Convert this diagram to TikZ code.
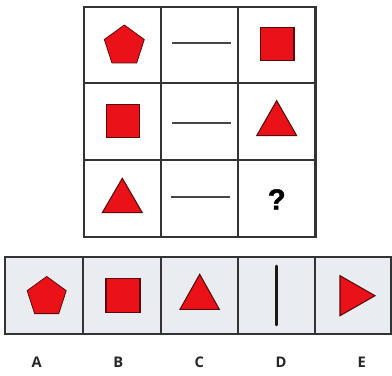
\documentclass[tikz,border=0pt]{standalone}
\usepackage{fontspec}
\setmainfont{Open Sans}
\newfontfamily\qfont[FakeBold=1.5]{Liberation Sans Bold}
\usetikzlibrary{shapes.geometric}
\definecolor{shapered}{HTML}{EA1218}
\definecolor{shapeedge}{HTML}{5A0A0A}
\definecolor{gridline}{HTML}{333333}
\definecolor{optfill}{HTML}{E9EDF2}
\tikzset{
  redshape/.style={fill=shapered, draw=shapeedge, line width=0.8, line join=miter},
  gridl/.style={draw=gridline, line width=1.6},
  dashl/.style={draw=gridline!90, line width=1.4},
  pent/.style={regular polygon, regular polygon sides=5, inner sep=0pt, fill=shapered, draw=shapeedge, line width=0.6pt},
  lab/.style={font=\bfseries\fontsize{11}{13}\selectfont, text=black!85, inner sep=0pt}
}
\begin{document}
\begin{tikzpicture}[x=0.75pt,y=-0.75pt]
\useasboundingbox (0,0) rectangle (392,375);
\fill[white] (0,0) rectangle (392,375);
% grid
\fill[white] (84,7) rectangle (315.5,237.3);
\draw[gridl] (84,7) rectangle (315.5,237.3);
\draw[gridl] (161,7) -- (161,237.3);
\draw[gridl] (238.3,7) -- (238.3,237.3);
\draw[gridl] (84,83.3) -- (315.5,83.3);
\draw[gridl] (84,160) -- (315.5,160);
% row 1
\node[pent, minimum size=31.5pt] (p1) at (124.3,46) {};
\draw[dashl] (171.7,42.7) -- (230.7,42.7);
\draw[redshape] (260.7,27.3) rectangle (294,60.7);
% row 2
\draw[redshape] (106.3,104.3) rectangle (139.7,137.7);
\draw[dashl] (171.7,122.7) -- (230.7,122.7);
\draw[redshape] (256.7,135.7) -- (296.7,135.7) -- (276.7,100.7) -- cycle;
% row 3
\draw[redshape] (102.3,212.7) -- (142.3,212.7) -- (122.3,178.3) -- cycle;
\draw[dashl] (171,196.7) -- (230.3,196.7);
\node[font=\qfont\fontsize{22}{24}\selectfont, inner sep=0pt] (q) at (276.7,199.5) {?};
% options
\fill[optfill] (5,257) rectangle (391.5,334);
\draw[gridl] (5,257) rectangle (391.5,334);
\draw[gridl] (83.3,257) -- (83.3,334);
\draw[gridl] (161.3,257) -- (161.3,334);
\draw[gridl] (238.3,257) -- (238.3,334);
\draw[gridl] (315.3,257) -- (315.3,334);
\node[pent, minimum size=30.8pt] (pa) at (46.7,297) {};
\draw[redshape] (106,278.3) rectangle (140,312.3);
\draw[redshape] (180,309.3) -- (219.3,309.3) -- (199.7,274.3) -- cycle;
\draw[black!90, line width=2.2, line cap=round] (276.7,266) -- (276.7,325);
\draw[redshape] (340,275.7) -- (340,315.7) -- (375,295.7) -- cycle;
% labels
\node[lab] (la) at (36.7,362.3) {A};
\node[lab] (lb) at (118.3,362.3) {B};
\node[lab] (lc) at (199.3,362.3) {C};
\node[lab] (ld) at (281,362.3) {D};
\node[lab] (le) at (361.7,362.3) {E};
\end{tikzpicture}
\end{document}
